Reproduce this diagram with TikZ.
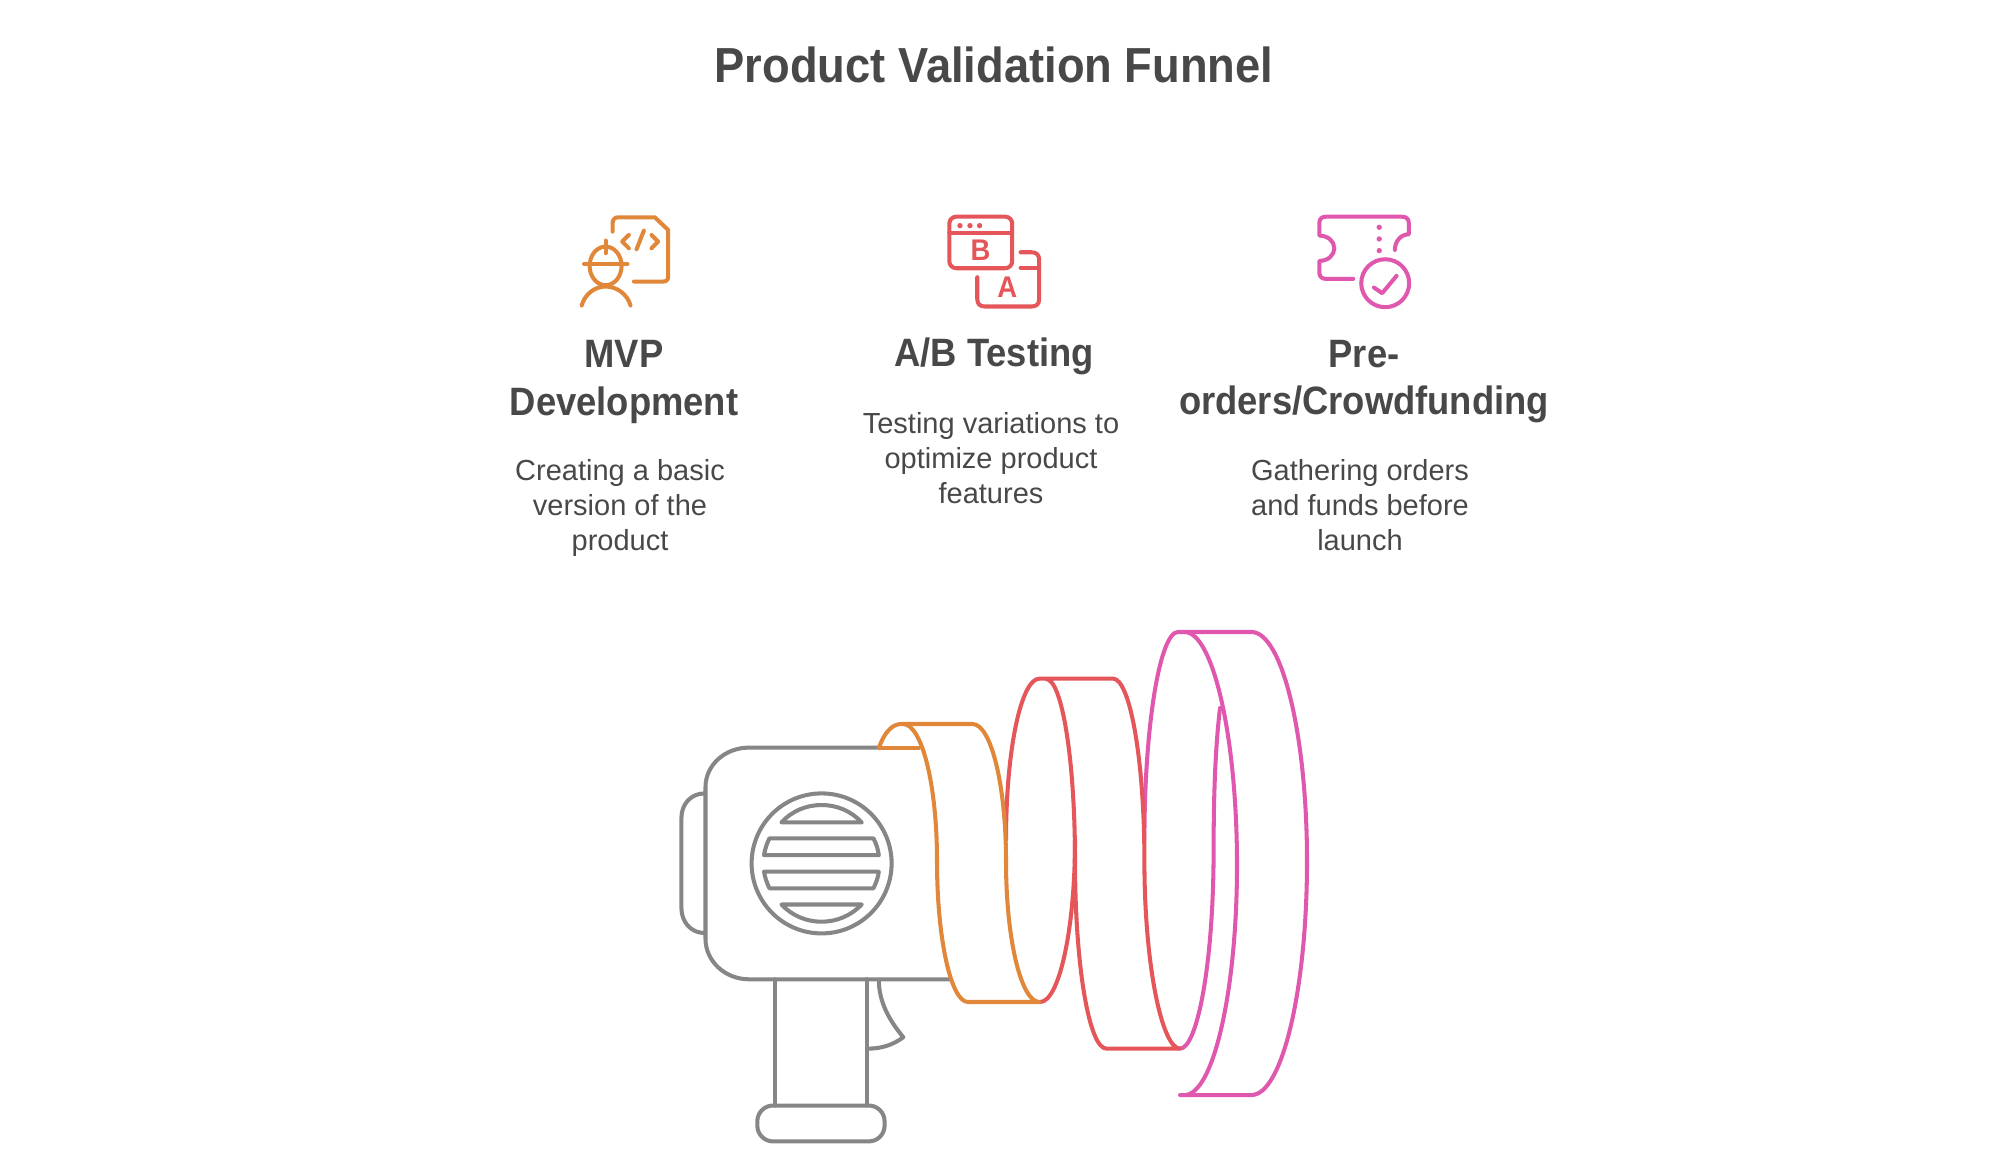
\documentclass[tikz,border=0pt]{standalone}
\usepackage{fontspec}
\setmainfont{Liberation Sans}
\newfontfamily\narrowfont[FakeStretch=0.92]{Liberation Sans}
\definecolor{inkgray}{HTML}{484848}
\definecolor{bodygray}{HTML}{868686}
\definecolor{mvporange}{HTML}{E0873A}
\definecolor{testred}{HTML}{E5565A}
\definecolor{preorderpink}{HTML}{E058AE}
\tikzset{
  outline/.style={line width=1.15pt, line join=round, line cap=round},
  iconline/.style={line width=1.15pt, line join=round, line cap=round},
  titletext/.style={text=inkgray, font=\narrowfont\fontsize{14}{16}\selectfont\bfseries},
  headtext/.style={text=inkgray, font=\narrowfont\fontsize{11.25}{13.4}\selectfont\bfseries, align=center, inner sep=0pt},
  desctext/.style={text=inkgray, font=\fontsize{8.25}{9.85}\selectfont, align=center, inner sep=0pt},
  iconletter/.style={font=\narrowfont\fontsize{8.5}{8.5}\selectfont\bfseries, inner sep=0pt}
}
\begin{document}
\begin{tikzpicture}[x=0.01cm, y=-0.01cm]
        \useasboundingbox (0,0) rectangle (2000,1163);

        % Texts
        \node[titletext] (title) at (994,65) {Product Validation Funnel};
        \node[headtext] (mvphead) at (624,382) {MVP\\Development};
        \node[headtext] (abhead)  at (994,356) {A/B Testing};
        \node[headtext] (prehead) at (1364,382) {Pre-\\orders/Crowdfunding};
        \node[desctext] (mvpdesc) at (620,508) {Creating a basic\\version of the\\product};
        \node[desctext] (abdesc)  at (991,458) {Testing variations to\\optimize product\\features};
        \node[desctext] (predesc) at (1360,505) {Gathering orders\\and funds before\\launch};

        % Draw the megaphone body
        \draw[outline, bodygray] (879,747.6) -- (749,747.6)
              .. controls (725,747.6) and (705.5,765) .. (705.5,787) -- (705.5,939)
              .. controls (705.5,961) and (725,979.3) .. (749,979.3) -- (950,979.3);
        \draw[outline, bodygray] (704.6,793.4) .. controls (691,793.4) and (681.4,804) .. (681.4,818)
              -- (681.4,908) .. controls (681.4,922) and (691,933) .. (704.6,933);
        \draw[outline, bodygray] (821.6,863.4) circle (70);
        \draw[outline, bodygray] (781.4,822.4) .. controls (792,811) and (806,805) .. (821.6,805)
              .. controls (837,805) and (851,811) .. (861.8,822.4) -- cycle;
        \draw[outline, bodygray] (769.4,838.3) -- (873.4,838.3) .. controls (876,843) and (878,849) .. (878.8,855.2)
              -- (764,855.2) .. controls (765,849) and (767,843) .. (769.4,838.3) -- cycle;
        \draw[outline, bodygray] (764,871.7) -- (878.8,871.7) .. controls (878,878) and (876,883) .. (873.4,888.3)
              -- (769.4,888.3) .. controls (767,883) and (765,878) .. (764,871.7) -- cycle;
        \draw[outline, bodygray] (781.4,904.5) -- (861.8,904.5) .. controls (851,915.5) and (837,921.7) .. (821.6,921.7)
              .. controls (806,921.7) and (792,915.5) .. (781.4,904.5) -- cycle;

        % Draw the handle
        \draw[outline, bodygray] (774.7,979.3) -- (774.7,1105.5);
        \draw[outline, bodygray] (866.7,979.3) -- (866.7,1105.5);
        \draw[outline, bodygray, rounded corners=4.5pt] (757.3,1105.5) rectangle (884.6,1141.4);
        \draw[outline, bodygray] (878.8,980) .. controls (879,1002) and (889,1020) .. (903.3,1037.2)
              .. controls (893,1045) and (881,1048.6) .. (868.5,1048.6);

        % Draw the pink ring
        \draw[outline, preorderpink] (1144.4,840) .. controls (1144.4,725) and (1160,632) .. (1178,632)
              -- (1251.5,632) .. controls (1282,632) and (1307,735) .. (1307,861)
              .. controls (1307,990) and (1282,1095) .. (1251.5,1095) -- (1180,1095);
        \draw[outline, preorderpink] (1184.6,632) .. controls (1213,632) and (1237,737) .. (1237,865)
              .. controls (1237,992) and (1213,1095) .. (1184.6,1095);
        \draw[outline, preorderpink] (1220,708) .. controls (1215,750) and (1213.6,800) .. (1213.6,850)
              .. controls (1213.6,965) and (1197,1048.6) .. (1180,1048.6);

        % Draw the red ring
        \draw[outline, testred] (1006,840) .. controls (1006,750) and (1021,678.6) .. (1039.5,678.6)
              -- (1113,678.6) .. controls (1130,678.6) and (1144.4,760) .. (1144.4,861)
              .. controls (1144.4,965) and (1162,1048.6) .. (1180,1048.6) -- (1106.4,1048.6)
              .. controls (1089,1048.6) and (1075,965) .. (1075,861)
              .. controls (1075,760) and (1062,679) .. (1046,679);
        \draw[outline, testred] (1075,840) .. controls (1075,930) and (1059,1002) .. (1040,1002);

        % Draw the orange ring
        \draw[outline, mvporange] (879,747.6) .. controls (884,733) and (892,724) .. (901,724)
              -- (972.5,724) .. controls (991,724) and (1006,785) .. (1006,861)
              .. controls (1006,939) and (1021,1002) .. (1039.5,1002) -- (968,1002)
              .. controls (951,1002) and (937,939) .. (937,861)
              .. controls (937,785) and (922,724) .. (903,724);
        \draw[outline, mvporange] (879,747.6) -- (919,747.6);

        % Draw the MVP icon
        \begin{scope}[shift={(560,200)}, x=0.00333cm, y=-0.00333cm]
          \draw[iconline, mvporange] (158,95) -- (158,70) .. controls (158,59) and (164,52) .. (175,52)
                -- (285,52) -- (325,90) -- (325,230) .. controls (325,240) and (320,245) .. (310,245) -- (222,245);
          \draw[iconline, mvporange] (207,105) -- (187,125) -- (207,145);
          \draw[iconline, mvporange] (252,92) -- (230,148);
          \draw[iconline, mvporange] (275,105) -- (295,125) -- (275,145);
          \draw[iconline, mvporange] (137,198) ellipse (48 and 58);
          \draw[iconline, mvporange] (137,122) -- (137,160);
          \draw[iconline, mvporange] (72,192) -- (203,192);
          \draw[iconline, mvporange] (65,317) .. controls (75,282) and (105,260) .. (137,260)
                .. controls (170,260) and (202,282) .. (212,317);
        \end{scope}

        % Draw the A/B icon
        \begin{scope}[shift={(930,200)}, x=0.00333cm, y=-0.00333cm]
          \draw[iconline, testred, rounded corners=2pt] (58,50) rectangle (247,205);
          \draw[iconline, testred] (58,98) -- (247,98);
          \foreach \dotx in {90,120,149}
            \fill[testred] (\dotx,77) circle (8);
          \node[iconletter, text=testred] (bletter) at (152,152) {B};
          \draw[iconline, testred] (272,157) -- (305,157) .. controls (320,157) and (328,165) .. (328,180)
                -- (328,298) .. controls (328,312) and (320,320) .. (305,320) -- (165,320)
                .. controls (150,320) and (142,312) .. (142,298) -- (142,232);
          \draw[iconline, testred] (272,203) -- (328,203);
          \node[iconletter, text=testred] (aletter) at (232,263) {A};
        \end{scope}

        % Draw the pre-order icon
        \begin{scope}[shift={(1300,200)}, x=0.00333cm, y=-0.00333cm]
          \draw[iconline, preorderpink] (160,237) -- (78,237) .. controls (65,237) and (58,230) .. (58,217)
                -- (58,183) .. controls (85,183) and (103,165) .. (103,145)
                .. controls (103,125) and (85,107) .. (58,107) -- (58,70)
                .. controls (58,57) and (65,50) .. (78,50) -- (305,50)
                .. controls (320,50) and (327,57) .. (327,70) -- (327,103)
                .. controls (302,103) and (285,125) .. (285,150);
          \foreach \doty in {82,117,152}
            \fill[preorderpink] (238,\doty) circle (8);
          \draw[iconline, preorderpink] (256,250) circle (72);
          \draw[iconline, preorderpink] (222,263) -- (247,280) -- (290,228);
        \end{scope}
\end{tikzpicture}
\end{document}
